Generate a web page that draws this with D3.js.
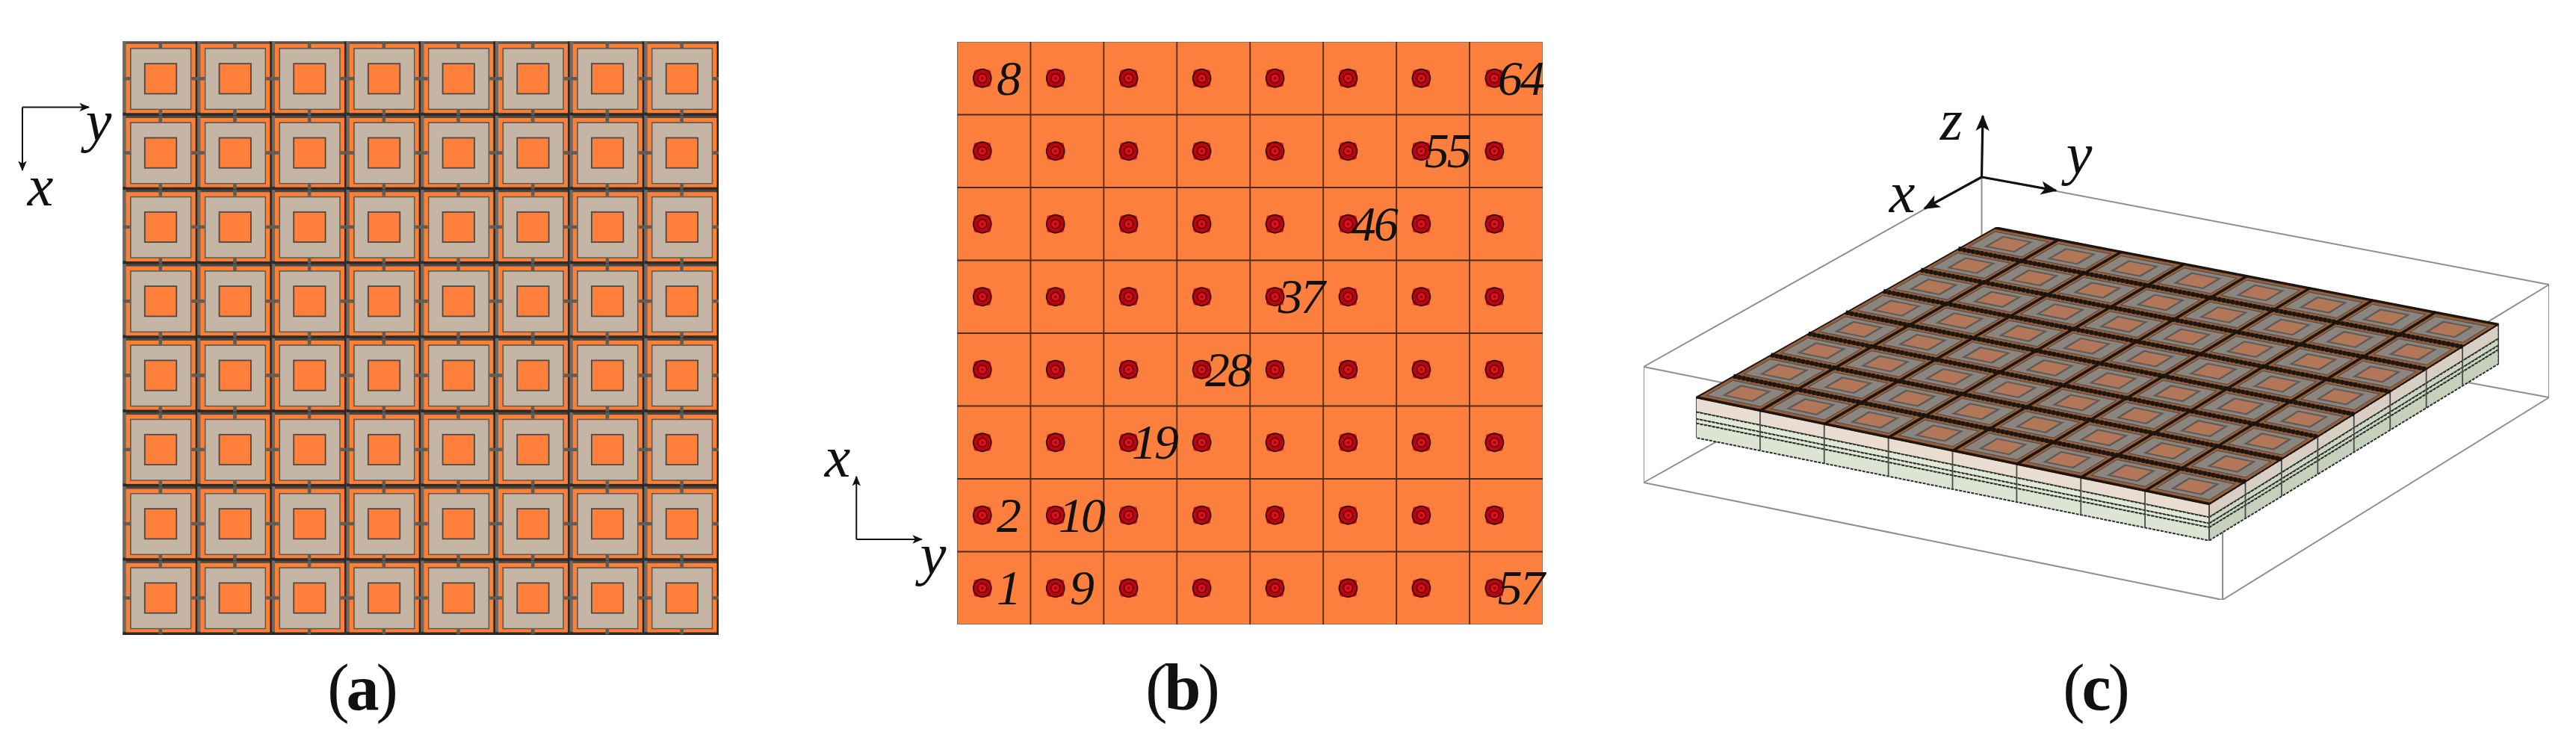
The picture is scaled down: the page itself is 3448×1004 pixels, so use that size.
<!DOCTYPE html>
<html>
<head>
<meta charset="utf-8">
<script src="https://cdn.jsdelivr.net/npm/d3@7"></script>
<style>
html, body { margin: 0; padding: 0; background: #fff; }
svg { display: block; }
text { font-family: "Liberation Serif", serif; fill: #111; }
</style>
</head>
<body>
<div id="chart"></div>
<script>
'use strict';
// cell indices of the 8 x 8 array
var cols = [0, 1, 2, 3, 4, 5, 6, 7];
var rows = [0, 1, 2, 3, 4, 5, 6, 7];
var gridLines = [0, 1, 2, 3, 4, 5, 6, 7, 8];
// numbered elements in panel b (numbering runs up the columns)
var elementLabels = [1, 2, 8, 9, 10, 19, 28, 37, 46, 55, 57, 64];
var captions = ['a', 'b', 'c'];
// side layers of the plate in panel c, fraction of the plate thickness
var layerTops = [0, 0.36, 0.53, 0.64];
var layerBottoms = [0.36, 0.53, 0.64, 1];
var layerFront = ['#e9dcd1', '#e0e8d8', '#e0e8d8', '#dde4d4'];
var layerRight = ['#d8cfc4', '#ccd6c4', '#ccd6c4', '#c6d0bc'];

var width = 3448,
    height = 1004;

var svg = d3.select('#chart').append('svg')
    .attr('width', width)
    .attr('height', height);

var defs = svg.append('defs');
defs.append('filter').attr('id', 'soft')
    .attr('x', 0).attr('y', 0).attr('width', 1).attr('height', 1)
    .append('feGaussianBlur').attr('stdDeviation', 0.7);
function addMarker(id, w, h) {
    defs.append('marker').attr('id', id)
        .attr('viewBox', '-12 -6 14 12')
        .attr('refX', 0).attr('refY', 0)
        .attr('markerUnits', 'userSpaceOnUse')
        .attr('markerWidth', w).attr('markerHeight', h)
        .attr('orient', 'auto')
        .append('path')
        .attr('d', 'M-11,-5 L1,0 L-11,5 L-8,0 Z')
        .attr('fill', '#111');
}
addMarker('arrow', 16, 14);
addMarker('arrow-big', 26, 22);

var line = d3.line();

function arrow(g, x1, y1, x2, y2, w, marker) {
    g.append('line')
        .attr('x1', x1).attr('y1', y1).attr('x2', x2).attr('y2', y2)
        .attr('stroke', '#111').attr('stroke-width', w)
        .attr('marker-end', 'url(#' + (marker || 'arrow') + ')');
}

function axisLabel(g, t, x, y) {
    g.append('text').attr('x', x).attr('y', y)
        .attr('text-anchor', 'middle')
        .attr('font-size', 78).attr('font-style', 'italic')
        .text(t);
}

// panel a: top view of the unit cells
var xA = d3.scaleLinear().domain([0, 8]).range([164.5, 962]);
var yA = d3.scaleLinear().domain([0, 8]).range([55.5, 850]);
var unitA = xA(1) - xA(0);
var unitAy = yA(1) - yA(0);
var a = svg.append('g').attr('class', 'panel-a');
var am = a.append('g').attr('filter', 'url(#soft)');
am.append('rect')
    .attr('x', xA(0)).attr('y', yA(0))
    .attr('width', xA(8) - xA(0)).attr('height', yA(8) - yA(0))
    .attr('fill', '#4a4642').attr('stroke', '#77736d').attr('stroke-width', 2);

var cellsA = am.selectAll('g.cell')
    .data(d3.cross(cols, rows))
    .enter().append('g')
    .attr('class', 'cell')
    .attr('transform', function (d) { return 'translate(' + xA(d[0]) + ',' + yA(d[1]) + ')'; });
// grey strip on the left, dark one on the right and below
cellsA.append('rect').attr('x', 0).attr('y', 0).attr('width', 4.2).attr('height', unitAy).attr('fill', '#6f6b64');
cellsA.append('rect').attr('x', 96.8).attr('y', 0).attr('width', unitA - 96.8).attr('height', unitAy).attr('fill', '#2b2826');
cellsA.append('rect').attr('x', 0).attr('y', 95.2).attr('width', unitA).attr('height', unitAy - 95.2).attr('fill', '#2f2c2a');
cellsA.append('rect').attr('x', 7).attr('y', 6).attr('width', 87.2).attr('height', 86.9)
    .attr('fill', 'none').attr('stroke', '#ff7f36').attr('stroke-width', 5.8);
cellsA.append('rect').attr('x', 10.4).attr('y', 9.4).attr('width', 80.7).attr('height', 81.5)
    .attr('fill', '#c4b5a5').attr('stroke', '#5c5852').attr('stroke-width', 1.5);
cellsA.append('rect').attr('x', 29.3).attr('y', 29.7).attr('width', 42.4).attr('height', 40.3)
    .attr('fill', '#ff7f3a').attr('stroke', '#4d4a46').attr('stroke-width', 1.8);
// connectors in the middle of each side
cellsA.append('rect').attr('x', 48).attr('y', 0).attr('width', 4.5).attr('height', 8.5).attr('fill', '#5f5b55');
cellsA.append('rect').attr('x', 48).attr('y', 91.5).attr('width', 4.5).attr('height', 7).attr('fill', '#5f5b55');
cellsA.append('rect').attr('x', 1).attr('y', 47.5).attr('width', 8.5).attr('height', 4.5).attr('fill', '#5f5b55');
cellsA.append('rect').attr('x', 92).attr('y', 47.5).attr('width', unitA - 92).attr('height', 4.5).attr('fill', '#5f5b55');

arrow(a, 30, 143.5, 119, 143.5, 2);
arrow(a, 30, 143.5, 30, 228, 2);
axisLabel(a, 'y', 132, 188);
axisLabel(a, 'x', 54, 275);

// panel b: numbered elements
var xB = d3.scaleLinear().domain([0, 8]).range([1281.5, 2065]);
var yB = d3.scaleLinear().domain([0, 8]).range([836, 56]);
var unitB = xB(1) - xB(0);
var b = svg.append('g').attr('class', 'panel-b');
var bm = b.append('g').attr('filter', 'url(#soft)');
bm.append('rect')
    .attr('x', xB(0)).attr('y', yB(8))
    .attr('width', xB(8) - xB(0)).attr('height', yB(0) - yB(8))
    .attr('fill', '#fd7f3e').attr('stroke', '#77706a').attr('stroke-width', 1.5);
bm.selectAll('line.v').data(gridLines.slice(1, 8)).enter().append('line')
    .attr('class', 'v')
    .attr('x1', function (d) { return xB(d); }).attr('x2', function (d) { return xB(d); })
    .attr('y1', yB(0)).attr('y2', yB(8))
    .attr('stroke', '#4a2f20').attr('stroke-width', 1.8);
bm.selectAll('line.h').data(gridLines.slice(1, 8)).enter().append('line')
    .attr('class', 'h')
    .attr('y1', function (d) { return yB(d); }).attr('y2', function (d) { return yB(d); })
    .attr('x1', xB(0)).attr('x2', xB(8))
    .attr('stroke', '#4a2f20').attr('stroke-width', 1.8);

var dots = bm.selectAll('g.dot')
    .data(d3.cross(cols, rows))
    .enter().append('g')
    .attr('class', 'dot')
    .attr('transform', function (d) {
        return 'translate(' + (xB(d[0]) + unitB * 0.34) + ',' + (yB(d[1] + 0.5)) + ')';
    });
dots.append('rect').attr('x', -11.5).attr('y', -11.5).attr('width', 23).attr('height', 23).attr('rx', 4)
    .attr('fill', '#e8101a');
dots.append('circle').attr('r', 12).attr('fill', '#c00010').attr('stroke', '#331010').attr('stroke-width', 1.8);
dots.append('circle').attr('r', 6).attr('fill', '#e0101a').attr('stroke', '#4a0808').attr('stroke-width', 1.4);
dots.append('circle').attr('r', 1.6).attr('fill', '#5a0808');

b.selectAll('text.num').data(elementLabels).enter().append('text')
    .attr('class', 'num')
    .attr('x', function (d) { return xB(Math.floor((d - 1) / 8)) + unitB * 0.69; })
    .attr('y', function (d) { return yB((d - 1) % 8 + 0.5) + 22; })
    .attr('text-anchor', 'middle')
    .attr('font-size', 66).attr('font-style', 'italic')
    .attr('letter-spacing', -3)
    .text(function (d) { return d; });

arrow(b, 1146.3, 722, 1146.3, 638, 2);
arrow(b, 1146.3, 722, 1234, 722, 2);
axisLabel(b, 'x', 1121, 638);
axisLabel(b, 'y', 1249, 768);

// panel c: oblique view of the plate
var c = svg.append('g').attr('class', 'panel-c');
var cornerL = [2270, 532], cornerF = [2957, 675], cornerR = [3344.5, 434], cornerB = [2671.5, 304.6];
var uNear = d3.scaleLinear().domain([0, 8]);
var depthU = d3.scaleLinear().domain([0, 8]).range([54, 48.6]);
var depthV = d3.scaleLinear().domain([0, 8]).range([0, 4.4]);
var nearX = uNear.copy().range([cornerL[0], cornerF[0]]),
    nearY = uNear.copy().range([cornerL[1], cornerF[1]]),
    farX = uNear.copy().range([cornerB[0], cornerR[0]]),
    farY = uNear.copy().range([cornerB[1], cornerR[1]]);
function proj(u, v, h) {
    var t = v / 8;
    var x = nearX(u) + (farX(u) - nearX(u)) * t;
    var y = nearY(u) + (farY(u) - nearY(u)) * t;
    return [x, y + (h || 0) * (depthU(u) + depthV(v))];
}
function quad(u0, v0, u1, v1) {
    return line([proj(u0, v0), proj(u1, v0), proj(u1, v1), proj(u0, v1)]) + 'Z';
}

// bounding box, all of it behind the plate
var boxEdges = [
    [[2200, 491], [2652.5, 237]], [[2652.5, 237], [3412, 381]], [[2200, 491], [2975, 647]], [[2975, 647], [3412, 381]],
    [[2200, 646], [2652.5, 392]], [[2652.5, 392], [3412, 532]], [[2200, 646], [2975, 803]], [[2975, 803], [3412, 532]],
    [[2200, 491], [2200, 646]], [[2652.5, 237], [2652.5, 392]], [[2975, 647], [2975, 803]], [[3412, 381], [3412, 532]]
];
c.append('g').attr('filter', 'url(#soft)').selectAll('path.box').data(boxEdges).enter().append('path')
    .attr('class', 'box')
    .attr('d', function (d) { return line(d); })
    .attr('fill', 'none').attr('stroke', '#8e8e8e').attr('stroke-width', 2);

var cm = c.append('g').attr('filter', 'url(#soft)');
// side faces, front side then right side
layerTops.forEach(function (top, i) {
    var bottom = layerBottoms[i];
    cm.append('path')
        .attr('d', line([proj(0, 0, top), proj(8, 0, top), proj(8, 0, bottom), proj(0, 0, bottom)]) + 'Z')
        .attr('fill', layerFront[i]).attr('stroke', '#2e2e2b').attr('stroke-width', 2)
        .attr('stroke-dasharray', '4 1.5');
    cm.append('path')
        .attr('d', line([proj(8, 0, top), proj(8, 8, top), proj(8, 8, bottom), proj(8, 0, bottom)]) + 'Z')
        .attr('fill', layerRight[i]).attr('stroke', '#2e2e2b').attr('stroke-width', 2)
        .attr('stroke-dasharray', '4 1.5');
});
cm.selectAll('path.div-front').data(gridLines).enter().append('path')
    .attr('class', 'div-front')
    .attr('d', function (d) { return line([proj(d, 0, 0), proj(d, 0, 1)]); })
    .attr('stroke', '#4c4c48').attr('stroke-width', 1.8);
cm.selectAll('path.div-right').data(gridLines).enter().append('path')
    .attr('class', 'div-right')
    .attr('d', function (d) { return line([proj(8, d, 0), proj(8, d, 1)]); })
    .attr('stroke', '#4c4c48').attr('stroke-width', 1.8);

// top face
cm.append('path').attr('d', quad(0, 0, 8, 8)).attr('fill', '#2a1d17');
var cellsC = cm.selectAll('g.cell3d').data(d3.cross(cols, rows)).enter().append('g').attr('class', 'cell3d');
cellsC.append('path')
    .attr('d', function (d) { return quad(d[0] + 0.02, d[1] + 0.06, d[0] + 0.98, d[1] + 0.94); })
    .attr('fill', '#96603f');
cellsC.append('path')
    .attr('d', function (d) { return quad(d[0] + 0.08, d[1] + 0.15, d[0] + 0.92, d[1] + 0.85); })
    .attr('fill', '#8a867f').attr('stroke', '#4d4843').attr('stroke-width', 1);
cellsC.append('path')
    .attr('d', function (d) { return quad(d[0] + 0.26, d[1] + 0.25, d[0] + 0.74, d[1] + 0.75); })
    .attr('fill', '#5f5a54');
cellsC.append('path')
    .attr('d', function (d) { return quad(d[0] + 0.3, d[1] + 0.3, d[0] + 0.7, d[1] + 0.7); })
    .attr('fill', '#b27758');
// jagged dark seams between the cells, only a thin edge on the outside
cm.selectAll('path.seam-u').data(gridLines).enter().append('path')
    .attr('class', 'seam-u')
    .attr('d', function (d) { return line([proj(0, d), proj(8, d)]); })
    .attr('stroke', '#1c120e')
    .attr('stroke-width', function (d) { return d === 0 || d === 8 ? 2.5 : 6; })
    .attr('stroke-dasharray', function (d) { return d === 0 || d === 8 ? null : '4 2'; });
cm.selectAll('path.seam-v').data(gridLines).enter().append('path')
    .attr('class', 'seam-v')
    .attr('d', function (d) { return line([proj(d, 0), proj(d, 8)]); })
    .attr('stroke', '#1c120e')
    .attr('stroke-width', function (d) { return d === 0 || d === 8 ? 1.5 : 3.5; });

arrow(c, 2652.5, 237, 2654, 155, 3.2, 'arrow-big');
arrow(c, 2652.5, 237, 2576, 279, 3.2, 'arrow-big');
arrow(c, 2652.5, 237, 2752, 255, 3.2, 'arrow-big');
axisLabel(c, 'z', 2612, 187);
axisLabel(c, 'x', 2546, 284);
axisLabel(c, 'y', 2783, 232);

// captions, bold letter in plain brackets
var captionX = d3.scaleOrdinal().domain(captions).range([483.5, 1581, 2804]);
var capt = svg.selectAll('text.caption').data(captions).enter().append('text')
    .attr('class', 'caption')
    .attr('x', function (d) { return captionX(d); })
    .attr('y', 950)
    .attr('text-anchor', 'middle')
    .attr('font-size', 88)
    .attr('letter-spacing', -4);
capt.append('tspan').text('(');
capt.append('tspan').attr('font-weight', 'bold').text(function (d) { return d; });
capt.append('tspan').text(')');
</script>
</body>
</html>
